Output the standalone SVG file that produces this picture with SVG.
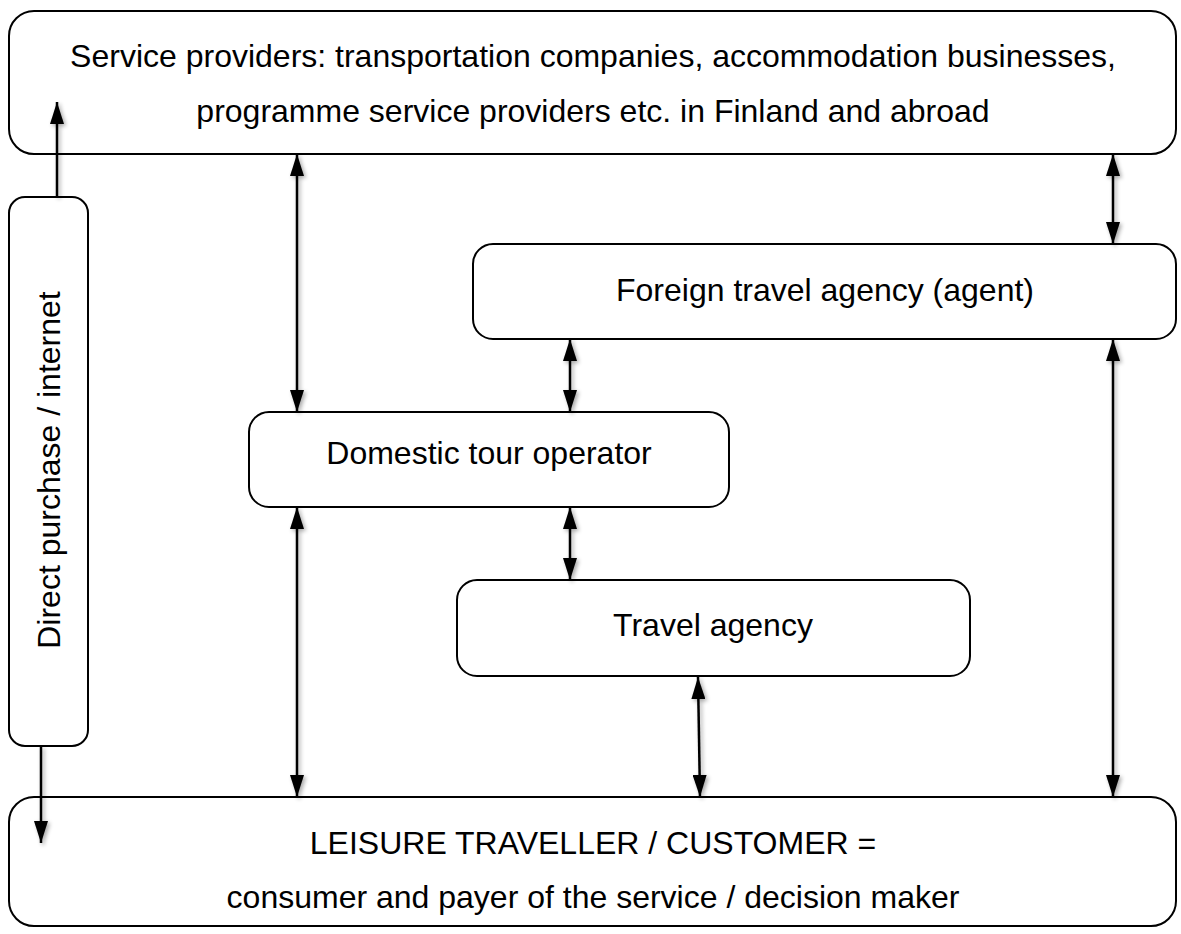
<svg xmlns="http://www.w3.org/2000/svg" width="1181" height="934" viewBox="0 0 1181 934">
<style>
.box{fill:#fff;stroke:#000;stroke-width:2}
.t{font-family:"Liberation Sans",Arial,sans-serif;font-size:32px;fill:#000;text-anchor:middle}
.c{stroke:#000;stroke-width:2.5;fill:none}
</style>
<defs>
<marker id="ah" viewBox="0 0 22 14" refX="22" refY="7" markerWidth="22" markerHeight="14" markerUnits="userSpaceOnUse" orient="auto-start-reverse">
<path d="M0,0 L22,7 L0,14 z" fill="#000"/>
</marker>
<filter id="sh" x="-50%" y="-10%" width="200%" height="120%">
<feGaussianBlur in="SourceAlpha" stdDeviation="2"/>
<feOffset dx="2" dy="2" result="b"/>
<feComponentTransfer><feFuncA type="linear" slope="0.35"/></feComponentTransfer>
<feMerge><feMergeNode/><feMergeNode in="SourceGraphic"/></feMerge>
</filter>
</defs>
<g id="service-providers">
<rect class="box" x="9" y="11" width="1167" height="143" rx="25"/>
<text class="t" x="593" y="67">Service providers: transportation companies, accommodation businesses,</text>
<text class="t" x="593" y="122">programme service providers etc. in Finland and abroad</text>
</g>
<g id="direct-purchase">
<rect class="box" x="9" y="197" width="79" height="549" rx="16"/>
<text class="t" transform="translate(60,470) rotate(-90)">Direct purchase / internet</text>
</g>
<g id="foreign-agency">
<rect class="box" x="473" y="244" width="703" height="95" rx="20"/>
<text class="t" x="825" y="301">Foreign travel agency (agent)</text>
</g>
<g id="domestic-operator">
<rect class="box" x="249" y="412" width="480" height="95" rx="20"/>
<text class="t" x="489" y="464">Domestic tour operator</text>
</g>
<g id="travel-agency">
<rect class="box" x="457" y="580" width="513" height="96" rx="20"/>
<text class="t" x="713" y="636">Travel agency</text>
</g>
<g id="customer">
<rect class="box" x="9" y="797" width="1167" height="129" rx="25"/>
<text class="t" x="593" y="854">LEISURE TRAVELLER / CUSTOMER =</text>
<text class="t" x="593" y="908">consumer and payer of the service / decision maker</text>
</g>
<g id="connectors" filter="url(#sh)">
<line class="c" x1="57" y1="197" x2="57" y2="102" marker-end="url(#ah)"/>
<line class="c" x1="41" y1="746" x2="41" y2="843" marker-end="url(#ah)"/>
<line class="c" x1="297" y1="154" x2="297" y2="412" marker-start="url(#ah)" marker-end="url(#ah)"/>
<line class="c" x1="297" y1="507" x2="297" y2="797" marker-start="url(#ah)" marker-end="url(#ah)"/>
<line class="c" x1="570" y1="339" x2="570" y2="412" marker-start="url(#ah)" marker-end="url(#ah)"/>
<line class="c" x1="570" y1="507" x2="570" y2="580" marker-start="url(#ah)" marker-end="url(#ah)"/>
<line class="c" x1="698" y1="677" x2="700" y2="797" marker-start="url(#ah)" marker-end="url(#ah)"/>
<line class="c" x1="1113" y1="154" x2="1113" y2="244" marker-start="url(#ah)" marker-end="url(#ah)"/>
<line class="c" x1="1113" y1="339" x2="1113" y2="797" marker-start="url(#ah)" marker-end="url(#ah)"/>
</g>
</svg>
